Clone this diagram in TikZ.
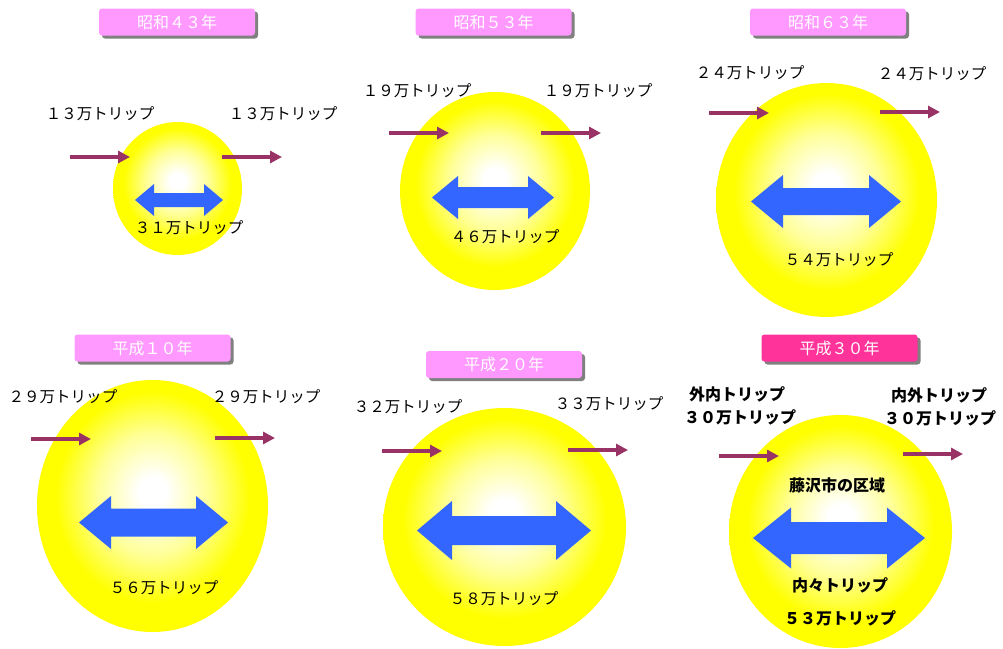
\documentclass[tikz,border=0pt]{standalone}
\usepackage{fontspec}
\setmainfont{Noto Sans CJK JP}
\usetikzlibrary{arrows.meta,shapes.geometric,shadows,calc}
\definecolor{tpink}{HTML}{FF99FF}
\definecolor{tdeep}{HTML}{FF3399}
\definecolor{flow}{HTML}{993366}
\definecolor{inner}{HTML}{3366FF}
\definecolor{sunyel}{HTML}{FFFF00}
\pgfdeclareradialshading{sun}{\pgfpoint{0bp}{3bp}}{color(0bp)=(white); color(3bp)=(white); color(12bp)=(sunyel!40!white); color(21bp)=(sunyel); color(50bp)=(sunyel)}
\newcommand\twoway[5]{%
  \fill[dblfill] ($(#1)+({-#2/2},0)$) -- ++(#5,{-#3/2}) -- ++(0,{(#3-#4)/2}) -- ++({#2-2*#5},0) -- ++(0,{-(#3-#4)/2}) -- ++(#5,{#3/2}) -- ++(-#5,{#3/2}) -- ++(0,{-(#3-#4)/2}) -- ++({-(#2-2*#5)},0) -- ++(0,{(#3-#4)/2}) -- cycle;}
\begin{document}
\begin{tikzpicture}[x=1pt,y=-1pt,
  title/.style={rounded corners=3pt, minimum width=156pt, minimum height=27pt, inner sep=0pt, text=white, font=\fontsize{16}{16}\selectfont, drop shadow={opacity=1, fill=gray, shadow xshift=3pt, shadow yshift=-3pt}},
  sunnode/.style={ellipse, shade, shading=sun, inner sep=0pt, draw=none},
  lbl/.style={font=\fontsize{15.5}{16}\selectfont, inner sep=0pt, text=black},
  blbl/.style={font=\bfseries\fontsize{16}{16}\selectfont, inner sep=0pt, text=black},
  flowarrow/.style={draw=flow, line width=3.5pt, -{Triangle[length=12pt,width=12pt]}},
  dblfill/.style={fill=inner, draw=none}]
\useasboundingbox (0,0) rectangle (1003,648);
% ---------- suns ----------
\node[sunnode, minimum width=129pt, minimum height=133pt] (s1) at (177.5,188.5) {};
\node[sunnode, minimum width=190pt, minimum height=198pt] (s2) at (495,191) {};
\node[sunnode, minimum width=221pt, minimum height=234pt] (s3) at (826.5,200) {};
\node[sunnode, minimum width=231pt, minimum height=252pt] (s4) at (152.5,506) {};
\node[sunnode, minimum width=243pt, minimum height=238pt] (s5) at (504.5,527) {};
\node[sunnode, minimum width=223pt, minimum height=233pt] (s6) at (840.5,531.5) {};
% ---------- titles ----------
\node[title, fill=tpink] (t1) at (177,22) {昭和４３年};
\node[title, fill=tpink] (t2) at (493.5,22) {昭和５３年};
\node[title, fill=tpink] (t3) at (828,22) {昭和６３年};
\node[title, fill=tpink] (t4) at (152.5,348) {平成１０年};
\node[title, fill=tpink] (t5) at (504,364.5) {平成２０年};
\node[title, fill=tdeep] (t6) at (839.5,348) {平成３０年};
% ---------- double arrows ----------
\coordinate (d1) at (179,200);
\coordinate (d2) at (493,197.5);
\coordinate (d3) at (826,201.5);
\coordinate (d4) at (153.5,522.5);
\coordinate (d5) at (504,530.5);
\coordinate (d6) at (839,538);
\twoway{d1}{88}{32}{14}{19}
\twoway{d2}{122}{43}{21}{26}
\twoway{d3}{150}{53}{27}{32}
\twoway{d4}{149}{53}{28}{32}
\twoway{d5}{174}{59}{29}{35}
\twoway{d6}{172}{61}{32}{38}
% ---------- flow arrows ----------
\coordinate (i1a) at (70,157);  \coordinate (i1b) at (130,157);
\coordinate (o1a) at (222,157); \coordinate (o1b) at (282,157);
\coordinate (i2a) at (389,133); \coordinate (i2b) at (449,133);
\coordinate (o2a) at (541,133); \coordinate (o2b) at (601,133);
\coordinate (i3a) at (709,113); \coordinate (i3b) at (769,113);
\coordinate (o3a) at (880,112); \coordinate (o3b) at (940,112);
\coordinate (i4a) at (31,439);  \coordinate (i4b) at (91,439);
\coordinate (o4a) at (215,438); \coordinate (o4b) at (275,438);
\coordinate (i5a) at (382,451); \coordinate (i5b) at (442,451);
\coordinate (o5a) at (568,450); \coordinate (o5b) at (628,450);
\coordinate (i6a) at (719,456); \coordinate (i6b) at (779,456);
\coordinate (o6a) at (903,454); \coordinate (o6b) at (963,454);
\foreach \n in {1,...,6}{
  \draw[flowarrow] (i\n a) -- (i\n b);
  \draw[flowarrow] (o\n a) -- (o\n b);
}
% ---------- labels ----------
\node[lbl] (l1a) at (100,114) {１３万トリップ};
\node[lbl] (l1b) at (283,114) {１３万トリップ};
\node[lbl] (l1c) at (189,228) {３１万トリップ};
\node[lbl] (l2a) at (417,91) {１９万トリップ};
\node[lbl] (l2b) at (598,91) {１９万トリップ};
\node[lbl] (l2c) at (505,237) {４６万トリップ};
\node[lbl] (l3a) at (750,73) {２４万トリップ};
\node[lbl] (l3b) at (932,74) {２４万トリップ};
\node[lbl] (l3c) at (839,260) {５４万トリップ};
\node[lbl] (l4a) at (63,397) {２９万トリップ};
\node[lbl] (l4b) at (266,397) {２９万トリップ};
\node[lbl] (l4c) at (164,588) {５６万トリップ};
\node[lbl] (l5a) at (408,407) {３２万トリップ};
\node[lbl] (l5b) at (609,404) {３３万トリップ};
\node[lbl] (l5c) at (504,599) {５８万トリップ};
\node[blbl] (l6a) at (737,394) {外内トリップ};
\node[blbl] (l6b) at (740,417) {３０万トリップ};
\node[blbl] (l6c) at (939,395) {内外トリップ};
\node[blbl] (l6d) at (940,418) {３０万トリップ};
\node[blbl] (l6e) at (837,485) {藤沢市の区域};
\node[blbl] (l6f) at (840,585) {内々トリップ};
\node[blbl] (l6g) at (840,618) {５３万トリップ};
\end{tikzpicture}
\end{document}
